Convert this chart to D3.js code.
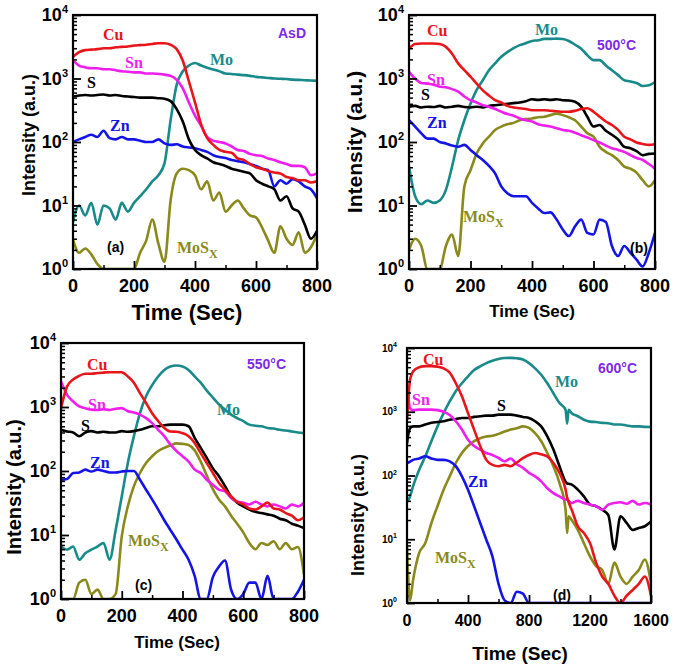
<!DOCTYPE html>
<html><head><meta charset="utf-8">
<script src="https://cdn.jsdelivr.net/npm/d3@7"></script>
<style>body{margin:0;background:#fff}svg{display:block}</style>
</head><body>
<svg id="chart" width="675" height="667"></svg>
<script>
// ---------- DATA ----------
const seriesNames = ["Mo", "MoSx", "Zn", "S", "Sn", "Cu"];
const yTickValues = [1, 10, 100, 1000, 10000];
const yTickExp = ["0", "1", "2", "3", "4"];
const xTicks800 = [0, 200, 400, 600, 800];
const xTicks1600 = [0, 400, 800, 1200, 1600];
const panelTags = ["(a)", "(b)", "(c)", "(d)"];
const tempLabels = ["AsD", "500°C", "550°C", "600°C"];

const times800 = [0,20,40,60,80,100,120,140,160,180,200,220,240,260,280,300,320,340,360,380,400,
  420,440,460,480,500,520,540,560,580,600,620,640,660,680,700,720,740,760,780,800];
const times1600 = [0,10,20,40,80,120,160,200,240,280,320,360,400,440,480,520,560,600,640,680,720,
  760,800,840,880,920,960,1000,1040,1050,1060,1080,1120,1160,1200,1240,1280,1320,1360,1400,1440,
  1480,1520,1560,1600];

// (a) AsD
const cuA = [2200,2600,2800,2850,2900,3000,3000,3100,3150,3200,3300,3350,3400,3500,3600,3600,3400,2900,1900,900,420,190,115,90,75,70,68,55,52,45,40,38,35,33,32,28,27,25,25,23,24];
const snA = [1950,1600,1500,1450,1450,1400,1400,1350,1300,1280,1250,1250,1200,1200,1180,1150,1100,950,700,420,260,180,120,105,100,95,85,75,72,65,62,60,55,52,48,45,42,42,40,30,32];
const sA  = [520,540,550,540,550,560,540,550,530,520,510,500,500,500,490,480,440,330,210,110,75,62,55,48,45,42,38,36,34,32,25,22,20,18,12,14,9,8,5,3,4];
const znA = [100,110,120,130,120,150,115,110,120,110,110,105,100,100,110,95,90,92,85,82,80,75,70,62,58,56,52,50,48,45,42,38,36,20,25,22,26,24,20,18,13];
const moA = [5.5,10,7,11,5,10,9,6,11,8,11,14,18,24,30,46,220,800,1300,1600,1750,1600,1480,1380,1300,1200,1180,1150,1130,1100,1060,1040,1020,1000,990,980,960,950,940,930,920];
const mosA = [2.9,1.8,2.1,1.7,1.2,1,1,1,1,1,1,1.8,2.8,6,2.5,1.3,12,32,38,36,30,18,24,12,16,8,10,12,9,7,6.5,4.5,2.8,1.8,4.7,3,2.4,3.8,1.8,2.2,3.5];

// (b) 500 C
const cuB = [2950,3500,3550,3550,3550,3500,3150,2460,1730,1350,1070,830,650,540,455,420,370,350,340,330,316,316,316,310,305,300,300,310,330,340,300,250,210,185,155,121,110,98,93,90,92];
const snB = [1270,1000,850,830,800,740,730,680,620,520,455,420,380,360,330,300,275,260,235,220,210,190,182,175,165,155,150,140,128,118,107,98,88,80,75,70,62,56,52,45,38];
const sB  = [360,370,350,360,355,370,350,360,370,355,350,360,350,370,380,390,400,410,420,440,470,460,470,460,470,455,450,430,360,250,175,185,150,130,110,84,80,72,62,65,66];
const znB = [220,175,137,113,113,100,95,88,84,90,75,62,52,42,32,20,15.6,14,14,14,11,9,7.6,7.8,6,4.2,3.3,4.7,6,3.7,3.5,6,5.5,2.3,1.6,2.3,1.8,1.4,1.1,1.8,3.7];
const moB = [41,14,10.5,12,11,12,17.6,41,107,220,400,660,940,1350,1730,2200,2600,3000,3350,3600,3900,4000,4200,4200,4250,4200,3900,3400,2950,2320,1950,1950,1600,1350,1130,940,900,850,760,780,880];
const mosB = [2,3,2.3,1,1,1,2.3,3.5,1.6,20,36,66,95,121,155,175,190,200,220,230,235,245,250,265,280,265,245,220,175,137,121,84,70,62,52,41,38,33,25,20,25];

// (c) 550 C
const cuC = [960,2100,2700,3060,3300,3300,3400,3450,3500,3500,3500,3000,2400,1650,1160,800,600,470,415,410,390,350,275,190,133,93,65,51,40,33,30,26,25,28,32,26,25,22,20,17,19];
const snC = [2500,1550,1220,1020,960,910,900,920,900,940,960,860,820,760,670,560,440,350,260,205,170,140,105,93,73,61,51,48,38,33,32,30,33,30,28,30,28,26,30,28,32];
const sC  = [440,415,400,350,400,420,400,410,400,400,420,410,420,440,470,500,500,520,530,530,530,500,330,230,160,110,83,58,40,32,28,25,23,22,21,20,18,17,15,14,12.8];
const znC = [73,75,93,95,105,98,105,100,95,95,98,100,100,73,51,36,25,17,12,8.5,5.9,4.1,2.3,1,1,2.2,3.2,4,1.4,1,1.2,1.8,1.8,1,2.3,1,1,1,1,1.3,2];
const moC = [6.6,5.9,6.6,4.1,5.2,5.9,6.6,7.5,4.1,12,40,133,350,800,1470,2200,3000,3800,4300,4450,4300,3800,3000,2400,1800,1400,1100,910,760,670,600,530,510,500,470,460,440,430,415,400,390];
const mosC = [1,1,1,1.8,2,1.2,1.4,1,1,1.2,9.5,28,58,93,133,170,205,230,250,270,265,255,210,140,85,52,36,28,20,15,11,7.5,6,7.5,7,8,6,7.5,6,6.5,2.4];

// (d) 600 C
const cuD = [750,1750,3200,4300,5000,5200,5200,5100,4800,4100,2800,1750,950,525,290,176,147,140,147,140,160,188,210,225,215,200,157,110,60,45,38,29,16,12.5,8.7,4.3,2.6,2,1.3,1,1.3,1.6,2,2.6,1.3];
const snD = [2500,1600,1130,1060,1080,1080,1080,1060,1000,890,710,525,365,290,255,225,210,188,167,185,150,132,110,97,81,63,53,47,42,42,40,37,40,37,35,33,29,35,37,38,36,40,35,37,35];
const sD  = [320,460,550,590,590,630,670,690,710,750,770,800,800,830,850,870,870,900,900,900,870,830,800,710,590,410,255,140,80,75,74,72,60,47,35,33,29,24,6.9,23,18,14,15,16,19];
const znD = [157,160,165,176,185,200,185,176,176,167,140,97,60,33,18,9.8,5.4,2,1.1,1,1.5,1.4,1,1,1,1,1,1,1,1,1,1,1,1,1,1,1,1,1,1,1,1,1,1,1];
const moD = [39,42,47,68,123,200,345,590,950,1450,2100,2800,3600,4500,5150,5800,6300,6700,6950,7000,6900,6600,5800,4800,3800,2800,1950,1370,1070,650,1070,950,850,750,700,690,670,660,630,630,610,590,590,580,575];
const mosD = [7.7,2,1.1,2.3,6.1,8.7,18,33,60,97,157,225,290,345,385,410,420,450,490,525,550,590,560,460,345,225,140,76,29,12.5,23,20,14,8.7,5.4,3.8,3.3,2,4.3,2.6,2,2.6,3.3,4.8,2];

// ---------- STYLE / LAYOUT ----------
const colors = {Cu:"#e8161b", Sn:"#ee1fee", S:"#000000", Zn:"#1414e6", Mo:"#198a8a", MoSx:"#8a8a1c"};
const purple = "#7d2ae8";

const panels = [
  {times:times800, data:{Cu:cuA,Sn:snA,S:sA,Zn:znA,Mo:moA,MoSx:mosA}, xMax:800, xTicks:xTicks800, minorStep:100,
   x0:73,x1:317,y0:15,y1:269, xtf:18, ytf:18, sup:11, ygap:5, ylab:{x:35,y:135,s:18}, xlab:{x:187,y:320,s:22},
   lab:{Cu:[103,40],Sn:[125,68],S:[87,88],Zn:[110,131],Mo:[210,65],MoSx:[177,253]}, temp:[278,38], tag:[107,252]},
  {times:times800, data:{Cu:cuB,Sn:snB,S:sB,Zn:znB,Mo:moB,MoSx:mosB}, xMax:800, xTicks:xTicks800, minorStep:100,
   x0:409,x1:655,y0:15,y1:269, xtf:18, ytf:18, sup:11, ygap:5, ylab:{x:362,y:142,s:21}, xlab:{x:532,y:317,s:17},
   lab:{Cu:[427,36],Sn:[427,85],S:[421,100],Zn:[427,128],Mo:[535,35],MoSx:[463,222]}, temp:[597,50], tag:[630,253]},
  {times:times800, data:{Cu:cuC,Sn:snC,S:sC,Zn:znC,Mo:moC,MoSx:mosC}, xMax:800, xTicks:xTicks800, minorStep:100,
   x0:61,x1:304,y0:343,y1:599, xtf:18, ytf:18, sup:11, ygap:5, ylab:{x:21,y:487,s:20}, xlab:{x:177,y:648,s:17},
   lab:{Cu:[87,370],Sn:[88,410],S:[81,431],Zn:[90,468],Mo:[217,415],MoSx:[128,546]}, temp:[247,369], tag:[135,590]},
  {times:times1600, data:{Cu:cuD,Sn:snD,S:sD,Zn:znD,Mo:moD,MoSx:mosD}, xMax:1600, xTicks:xTicks1600, minorStep:200,
   x0:407,x1:651,y0:348,y1:603, xtf:16, ytf:10, sup:7, ygap:10, ylab:{x:364,y:515,s:18}, xlab:{x:520,y:660,s:19},
   lab:{Cu:[423,365],Sn:[412,405],S:[497,411],Zn:[468,487],Mo:[555,387],MoSx:[435,563]}, temp:[598,373], tag:[553,600]}
];

const svg = d3.select("#chart");
const sans = "'Liberation Sans', Arial, Helvetica, sans-serif";
const serif = "'Liberation Serif', 'Times New Roman', serif";

panels.forEach((p, i) => {
  const x = d3.scaleLinear().domain([0, p.xMax]).range([p.x0, p.x1]);
  const y = d3.scaleLog().domain([1, 10000]).range([p.y1, p.y0]);
  const g = svg.append("g");

  const clipId = "clip" + i;
  svg.append("clipPath").attr("id", clipId).append("rect")
    .attr("x", p.x0).attr("y", p.y0).attr("width", p.x1 - p.x0).attr("height", p.y1 - p.y0);

  // lines
  const lg = g.append("g").attr("clip-path", `url(#${clipId})`);
  seriesNames.forEach(name => {
    const vals = p.data[name];
    const pts = p.times.map((t, k) => [t, Math.max(vals[k], 0.9)]);
    lg.append("path").datum(pts)
      .attr("fill", "none").attr("stroke", colors[name]).attr("stroke-width", 2.6)
      .attr("stroke-linejoin", "round").attr("stroke-linecap", "round")
      .attr("d", d3.line().x(d => x(d[0])).y(d => y(d[1])).curve(d3.curveMonotoneX));
  });

  // y ticks (inside)
  const minorY = [];
  for (let k = 0; k < 4; k++) for (let m = 2; m <= 9; m++) minorY.push(m * Math.pow(10, k));
  g.append("g").attr("transform", `translate(${p.x0},0)`)
    .call(d3.axisRight(y).tickValues(minorY).tickSize(4).tickFormat(""))
    .call(a => a.select(".domain").remove())
    .call(a => a.selectAll("line").attr("stroke", "#000").attr("stroke-width", 1.5));
  g.append("g").attr("transform", `translate(${p.x0},0)`)
    .call(d3.axisRight(y).tickValues(yTickValues).tickSize(8).tickFormat(""))
    .call(a => a.select(".domain").remove())
    .call(a => a.selectAll("line").attr("stroke", "#000").attr("stroke-width", 1.8));

  // x ticks (inside)
  const minorX = [];
  for (let t = p.minorStep; t < p.xMax; t += 2 * p.minorStep) minorX.push(t);
  g.append("g").attr("transform", `translate(0,${p.y1})`)
    .call(d3.axisTop(x).tickValues(minorX).tickSize(4).tickFormat(""))
    .call(a => a.select(".domain").remove())
    .call(a => a.selectAll("line").attr("stroke", "#000").attr("stroke-width", 1.5));
  g.append("g").attr("transform", `translate(0,${p.y1})`)
    .call(d3.axisTop(x).tickValues(p.xTicks).tickSize(8).tickFormat(""))
    .call(a => a.select(".domain").remove())
    .call(a => a.selectAll("line").attr("stroke", "#000").attr("stroke-width", 1.8));

  // frame
  g.append("rect").attr("x", p.x0).attr("y", p.y0).attr("width", p.x1 - p.x0).attr("height", p.y1 - p.y0)
    .attr("fill", "none").attr("stroke", "#000").attr("stroke-width", 2.2);

  // x tick labels
  g.selectAll(".xl").data(p.xTicks).enter().append("text")
    .attr("x", d => x(d)).attr("y", p.y1 + 23)
    .attr("text-anchor", "middle").attr("font-family", sans).attr("font-weight", "bold")
    .attr("font-size", p.xtf).text(d => d);

  // y tick labels
  yTickValues.forEach((v, k) => {
    const t = g.append("text").attr("x", p.x0 - p.ygap).attr("y", y(v) + p.ytf * 0.36)
      .attr("text-anchor", "end").attr("font-family", sans).attr("font-weight", "bold")
      .attr("font-size", p.ytf);
    t.append("tspan").text("10");
    t.append("tspan").attr("font-size", p.sup).attr("dy", -p.ytf * 0.45).text(yTickExp[k]);
  });

  // axis titles
  g.append("text").attr("transform", `translate(${p.ylab.x},${p.ylab.y}) rotate(-90)`)
    .attr("text-anchor", "middle").attr("font-family", sans).attr("font-weight", "bold")
    .attr("font-size", p.ylab.s).text("Intensity (a.u.)");
  g.append("text").attr("x", p.xlab.x).attr("y", p.xlab.y)
    .attr("text-anchor", "middle").attr("font-family", sans).attr("font-weight", "bold")
    .attr("font-size", p.xlab.s).text("Time (Sec)");

  // series labels
  ["Cu", "Sn", "S", "Zn", "Mo"].forEach(name => {
    g.append("text").attr("x", p.lab[name][0]).attr("y", p.lab[name][1])
      .attr("font-family", serif).attr("font-weight", "bold").attr("font-size", 16)
      .attr("fill", colors[name]).text(name);
  });
  const ms = g.append("text").attr("x", p.lab.MoSx[0]).attr("y", p.lab.MoSx[1])
    .attr("font-family", serif).attr("font-weight", "bold").attr("font-size", 16)
    .attr("fill", colors.MoSx);
  ms.append("tspan").text("MoS");
  ms.append("tspan").attr("font-size", 12).attr("dy", 5).text("X");

  // temperature and panel tag
  g.append("text").attr("x", p.temp[0]).attr("y", p.temp[1])
    .attr("font-family", sans).attr("font-weight", "bold").attr("font-size", 14)
    .attr("fill", purple).text(tempLabels[i]);
  g.append("text").attr("x", p.tag[0]).attr("y", p.tag[1])
    .attr("font-family", sans).attr("font-weight", "bold").attr("font-size", 14)
    .attr("fill", "#000").text(panelTags[i]);
});
</script>
</body></html>
